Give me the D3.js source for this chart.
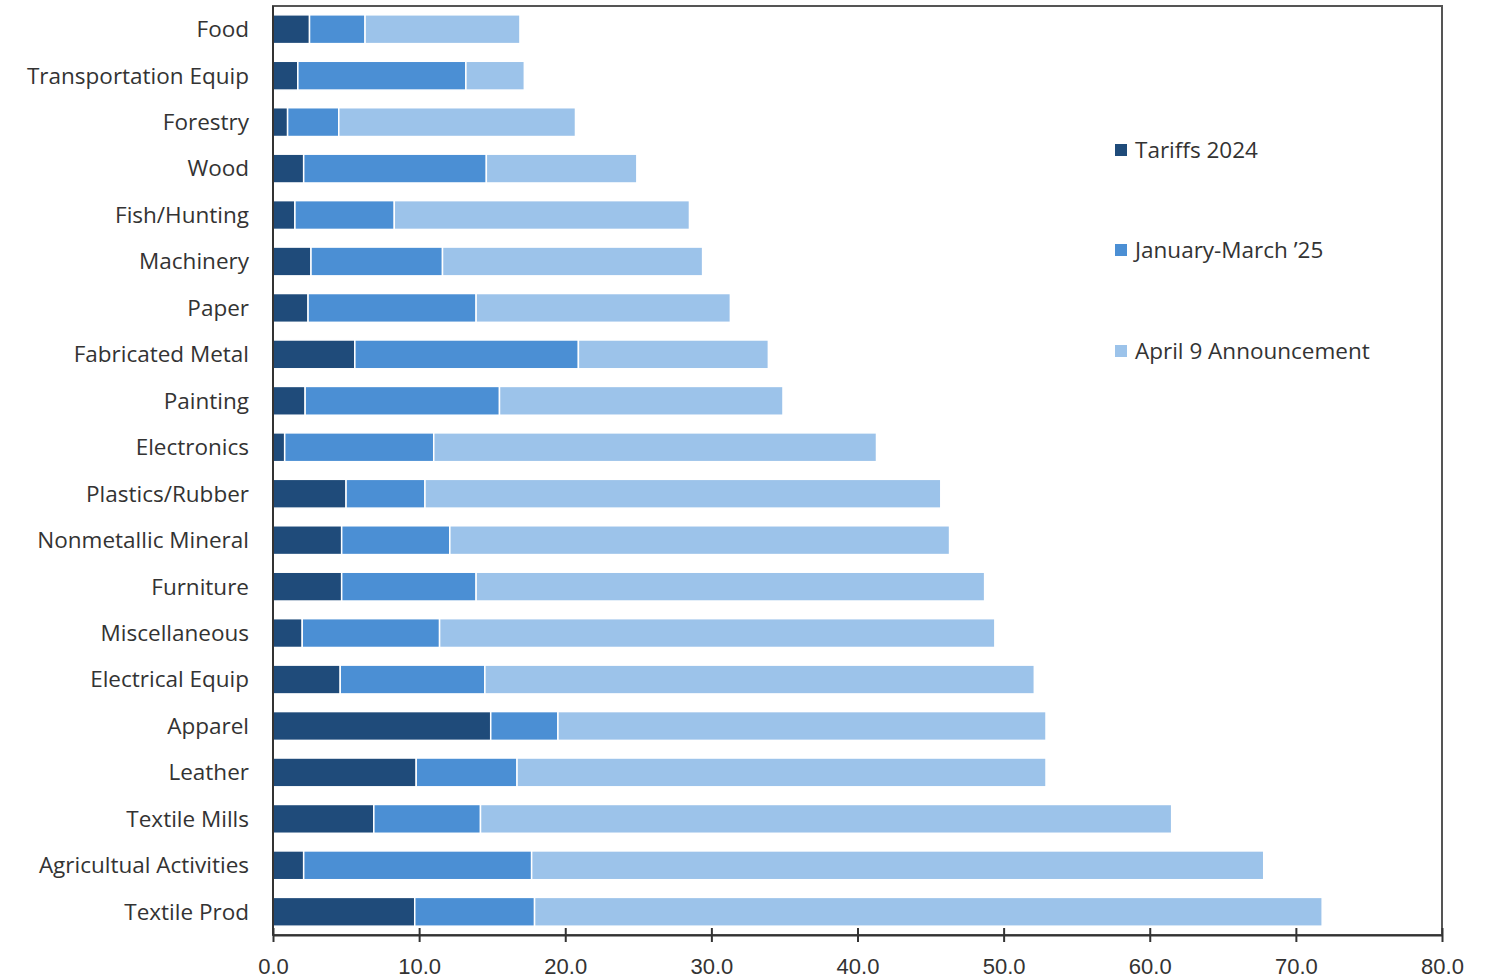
<!DOCTYPE html>
<html>
<head>
<meta charset="utf-8">
<script src="https://cdn.jsdelivr.net/npm/d3@7"></script>
<style>
  body { margin: 0; background: #fff; }
  svg { font-family: 'Open Sans', sans-serif; }
  .cat-label { font-size: 22.5px; fill: #333; }
  .tick-label { font-size: 22px; fill: #333; }
  .legend-label { font-size: 22.5px; fill: #333; }
  .frame { fill: none; stroke: #555; stroke-width: 2; }
  .axis { stroke: #333; stroke-width: 2; }
</style>
</head>
<body>
<div id="graph-container"></div>
<script>
const width = 1489;
const height = 979;
const margins = {top: 6, right: 47, bottom: 44, left: 273};

// categories, top to bottom
const categories = [
  'Food', 'Transportation Equip', 'Forestry', 'Wood', 'Fish/Hunting',
  'Machinery', 'Paper', 'Fabricated Metal', 'Painting', 'Electronics',
  'Plastics/Rubber', 'Nonmetallic Mineral', 'Furniture', 'Miscellaneous',
  'Electrical Equip', 'Apparel', 'Leather', 'Textile Mills',
  'Agricultual Activities', 'Textile Prod'
];

// segment lengths (stacked)
const tariffs2024 = [2.5, 1.7, 1.0, 2.1, 1.5, 2.6, 2.4, 5.6, 2.2, 0.8,
                     5.0, 4.7, 4.7, 2.0, 4.6, 14.9, 9.8, 6.9, 2.1, 9.7];
const janMar25 = [3.8, 11.5, 3.5, 12.5, 6.8, 9.0, 11.5, 15.3, 13.3, 10.2,
                  5.4, 7.4, 9.2, 9.4, 9.9, 4.6, 6.9, 7.3, 15.6, 8.2];
const april9 = [10.6, 4.0, 16.2, 10.3, 20.2, 17.8, 17.4, 13.0, 19.4, 30.3,
                35.3, 34.2, 34.8, 38.0, 37.6, 33.4, 36.2, 47.3, 50.1, 53.9];

const seriesNames = ['Tariffs 2024', 'January-March \u201925', 'April 9 Announcement'];
const seriesKeys = ['t2024', 'jm25', 'a9'];
const seriesColors = ['#1f4b7a', '#4b8fd4', '#9cc3ea'];
const xTicks = [0, 10, 20, 30, 40, 50, 60, 70, 80];

const rows = categories.map((c, i) => ({
  cat: c, t2024: tariffs2024[i], jm25: janMar25[i], a9: april9[i]
}));

const svg = d3.select('#graph-container')
              .append('svg')
              .attr('width', width)
              .attr('height', height);

const x = d3.scaleLinear()
            .domain([0, 80])
            .range([margins.left, width - margins.right]);

const y = d3.scaleBand()
            .domain(categories)
            .range([margins.top, height - margins.bottom])
            .paddingInner(0.38)
            .paddingOuter(0.19);

const stacked = d3.stack().keys(seriesKeys)(rows);

// bars
svg.append('g')
   .selectAll('g')
   .data(stacked)
   .join('g')
   .attr('fill', (d, i) => seriesColors[i])
   .selectAll('rect')
   .data(d => d)
   .join('rect')
   .attr('x', d => x(d[0]))
   .attr('y', d => y(d.data.cat))
   .attr('width', d => x(d[1]) - x(d[0]))
   .attr('height', y.bandwidth())
   .attr('stroke', '#fff')
   .attr('stroke-width', 1.5);

// frame around the plot
svg.append('rect')
   .attr('class', 'frame')
   .attr('x', x(0))
   .attr('y', margins.top)
   .attr('width', x(80) - x(0))
   .attr('height', height - margins.bottom - margins.top);

// x axis, ticks cross the line
const xAxis = svg.append('g')
   .attr('transform', `translate(0,${height - margins.bottom})`)
   .call(d3.axisBottom(x).tickValues(xTicks).tickFormat(d3.format('.1f'))
           .tickSizeInner(7).tickSizeOuter(0).tickPadding(16));
xAxis.select('.domain').attr('stroke', '#333').attr('stroke-width', 2);
xAxis.selectAll('.tick line').attr('stroke', '#333').attr('stroke-width', 2).attr('y1', -7);
xAxis.selectAll('.tick text').attr('class', 'tick-label').attr('font-size', null).attr('font-family', null);

// left axis line
svg.append('line')
   .attr('class', 'axis')
   .attr('x1', x(0)).attr('x2', x(0))
   .attr('y1', margins.top).attr('y2', height - margins.bottom);

// category labels
svg.append('g')
   .selectAll('text')
   .data(categories)
   .join('text')
   .attr('class', 'cat-label')
   .attr('x', 249)
   .attr('y', d => y(d) + y.bandwidth() / 2)
   .attr('dy', '0.35em')
   .attr('text-anchor', 'end')
   .text(d => d);

// legend
const legendY = [150, 250, 351];
const legend = svg.append('g')
   .selectAll('g')
   .data(seriesNames)
   .join('g')
   .attr('transform', (d, i) => `translate(1115,${legendY[i]})`);
legend.append('rect')
      .attr('x', 0).attr('y', -6)
      .attr('width', 12).attr('height', 12)
      .attr('fill', (d, i) => seriesColors[i]);
legend.append('text')
      .attr('class', 'legend-label')
      .attr('x', 20)
      .attr('dy', '0.35em')
      .text(d => d);
</script>
</body>
</html>
